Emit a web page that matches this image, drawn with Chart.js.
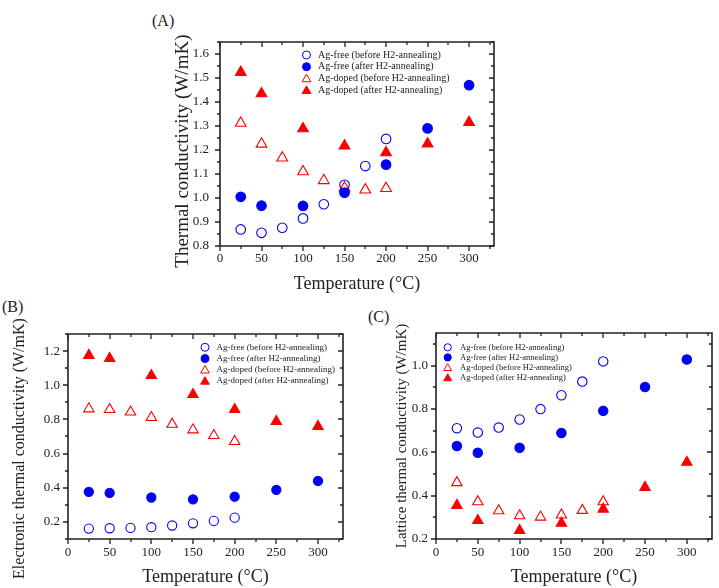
<!DOCTYPE html>
<html><head><meta charset="utf-8">
<script src="https://cdn.jsdelivr.net/npm/chart.js@4/dist/chart.umd.min.js"></script>
<style>
html,body{margin:0;padding:0;background:#fff;}
body{width:719px;height:588px;position:relative;overflow:hidden;font-family:"Liberation Serif",serif;}
.pl{position:absolute;font-size:16px;line-height:16px;color:#222;}
.cv{position:absolute;}
</style></head><body>
<div class="pl" style="left:152px;top:13px">(A)</div>
<div class="pl" style="left:2px;top:299px">(B)</div>
<div class="pl" style="left:368px;top:309px">(C)</div>
<canvas id="cA" class="cv" width="370" height="300" style="left:140px;top:0px"></canvas>
<canvas id="cB" class="cv" width="360" height="288" style="left:0px;top:300px"></canvas>
<canvas id="cC" class="cv" width="359" height="288" style="left:360px;top:300px"></canvas>
<script>
// ---- data ----
const temps8 = [25, 50, 75, 100, 125, 150, 175, 200];
const temps7 = [25, 50, 100, 150, 200, 250, 300];
const seriesNames = ['Ag-free (before H2-annealing)', 'Ag-free (after H2-annealing)',
                     'Ag-doped (before H2-annealing)', 'Ag-doped (after H2-annealing)'];
const xTicks = [0, 50, 100, 150, 200, 250, 300];

// (A) total thermal conductivity
const kFreeBefore  = [0.869, 0.855, 0.876, 0.915, 0.974, 1.055, 1.133, 1.246];
const kFreeAfter   = [1.005, 0.968, 0.967, 1.022, 1.139, 1.290, 1.470];
const kDopedBefore = [1.312, 1.225, 1.167, 1.110, 1.073, 1.042, 1.034, 1.040];
const kDopedAfter  = [1.524, 1.435, 1.289, 1.217, 1.189, 1.226, 1.315];
const yTicksA = [0.8, 0.9, 1.0, 1.1, 1.2, 1.3, 1.4, 1.5, 1.6];

// (B) electronic thermal conductivity
const keFreeBefore  = [0.161, 0.163, 0.165, 0.169, 0.179, 0.192, 0.206, 0.225];
const keFreeAfter   = [0.376, 0.370, 0.343, 0.332, 0.348, 0.388, 0.440];
const keDopedBefore = [0.862, 0.858, 0.843, 0.811, 0.772, 0.739, 0.706, 0.671];
const keDopedAfter  = [1.175, 1.157, 1.057, 0.946, 0.858, 0.788, 0.759];
const yTicksB = [0.2, 0.4, 0.6, 0.8, 1.0, 1.2];

// (C) lattice thermal conductivity
const klFreeBefore  = [0.711, 0.691, 0.714, 0.751, 0.799, 0.863, 0.926, 1.019];
const klFreeAfter   = [0.629, 0.598, 0.621, 0.689, 0.791, 0.901, 1.028];
const klDopedBefore = [0.460, 0.372, 0.330, 0.307, 0.301, 0.311, 0.332, 0.372];
const klDopedAfter  = [0.355, 0.285, 0.239, 0.273, 0.338, 0.438, 0.554];
const yTicksC = [0.2, 0.4, 0.6, 0.8, 1.0];

// ---- styling / helpers ----
const BLUE = 'rgb(0,0,245)';
const RED = 'rgb(250,0,0)';
const INK = '#222222';
Chart.defaults.font.family = '"Liberation Serif", "Times New Roman", serif';
Chart.defaults.color = INK;

function pts(xs, ys) { return xs.map((x, i) => ({x: x, y: ys[i]})); }

function makeDatasets(fb, fa, db, da, rc, rt) {
  const base = (label, data, style, r, fill, col) => ({
    label: label, data: data, pointStyle: style, pointRadius: r, pointHoverRadius: r,
    pointBackgroundColor: fill ? col : 'rgba(0,0,0,0)', pointBorderColor: col,
    pointBorderWidth: 1.1, showLine: false, isFilled: fill
  });
  return [
    base(seriesNames[0], pts(temps8, fb), 'circle', rc, false, BLUE),
    base(seriesNames[1], pts(temps7, fa), 'circle', rc, true, BLUE),
    base(seriesNames[2], pts(temps8, db), 'triangle', rt, false, RED),
    base(seriesNames[3], pts(temps7, da), 'triangle', rt, true, RED)
  ];
}

function drawMarker(ctx, style, x, y, r, fill, col) {
  ctx.beginPath();
  if (style === 'circle') {
    ctx.arc(x, y, r, 0, Math.PI * 2);
  } else {
    for (let k = 0; k < 3; k++) {
      const a = k * 2 * Math.PI / 3;
      const px = x + Math.sin(a) * r, py = y - Math.cos(a) * r;
      if (k === 0) ctx.moveTo(px, py); else ctx.lineTo(px, py);
    }
    ctx.closePath();
  }
  ctx.lineWidth = 1;
  ctx.strokeStyle = col;
  if (fill) { ctx.fillStyle = col; ctx.fill(); }
  ctx.stroke();
}

function drawFrame(chart, o) {
  const ctx = chart.ctx, a = chart.chartArea, xs = chart.scales.x, ys = chart.scales.y;
  const L = Math.round(a.left), R = Math.round(a.right);
  const T = Math.round(a.top), Bt = Math.round(a.bottom);
  ctx.save();
  ctx.globalAlpha = 1;
  ctx.strokeStyle = INK;
  ctx.lineWidth = 1.6;
  ctx.beginPath();
  ctx.moveTo(L, T); ctx.lineTo(R, T); ctx.lineTo(R, Bt); ctx.lineTo(L, Bt); ctx.closePath();
  ctx.stroke();
  ctx.lineWidth = 1.3;
  ctx.beginPath();
  const nx = Math.round((xs.max - xs.min) / o.xMinor);
  for (let i = 0; i <= nx; i++) {
    const v = xs.min + i * o.xMinor;
    const major = Math.abs(v / o.xMajor - Math.round(v / o.xMajor)) < 1e-6;
    const len = major ? 5 : 3;
    const px = Math.round(xs.getPixelForValue(v));
    ctx.moveTo(px, Bt); ctx.lineTo(px, Bt + len);
    ctx.moveTo(px, T); ctx.lineTo(px, T + len);
  }
  const ny = Math.round((ys.max - ys.min) / o.yMinor);
  for (let i = 0; i <= ny; i++) {
    const v = ys.min + i * o.yMinor;
    const major = Math.abs(v / o.yMajor - Math.round(v / o.yMajor)) < 1e-6;
    const len = major ? 5 : 3;
    const py = Math.round(ys.getPixelForValue(v));
    ctx.moveTo(L, py); ctx.lineTo(L - len, py);
    ctx.moveTo(R, py); ctx.lineTo(R - len, py);
  }
  ctx.stroke();
  ctx.restore();
}

function drawLegend(chart, o) {
  const ctx = chart.ctx;
  ctx.save();
  ctx.font = o.size + 'px "Liberation Serif", serif';
  ctx.textBaseline = 'middle';
  ctx.textAlign = 'left';
  chart.data.datasets.forEach((ds, i) => {
    const y = o.y0 + i * o.dy;
    const r = ds.pointStyle === 'circle' ? o.rc : o.rt;
    drawMarker(ctx, ds.pointStyle, o.mx, y + (ds.pointStyle === 'circle' ? 0 : 0.8), r, ds.isFilled, ds.pointBorderColor);
    ctx.fillStyle = INK;
    ctx.fillText(ds.label, o.tx, y);
  });
  ctx.restore();
}

function makeChart(id, cfg) {
  const decor = {
    id: 'decor' + id,
    afterDraw(chart) {
      drawFrame(chart, cfg.frame);
      drawLegend(chart, cfg.legend);
    }
  };
  return new Chart(document.getElementById(id), {
    type: 'scatter',
    data: {datasets: cfg.datasets},
    options: {
      responsive: false, animation: false, devicePixelRatio: 1,
      layout: {padding: {top: cfg.padTop, right: cfg.padRight, left: 0, bottom: 0}},
      plugins: {legend: {display: false}, tooltip: {enabled: false}},
      scales: {
        x: {
          type: 'linear', min: 0, max: 330,
          afterFit: s => { s.height = cfg.xH; },
          afterBuildTicks: s => { s.ticks = xTicks.map(v => ({value: v})); },
          grid: {display: false, drawTicks: false}, border: {display: false},
          ticks: {font: {size: 13}, padding: cfg.xPad, maxRotation: 0, autoSkip: false, color: INK},
          title: {display: true, text: 'Temperature (\u00B0C)', font: {size: 18}, color: INK,
                  padding: {top: 0, bottom: cfg.xTitlePad}}
        },
        y: {
          type: 'linear', min: cfg.yMin, max: cfg.yMax,
          afterFit: s => { s.width = cfg.yW; },
          afterBuildTicks: s => { s.ticks = cfg.yTicks.map(v => ({value: v})); },
          grid: {display: false, drawTicks: false}, border: {display: false},
          ticks: {font: {size: 13}, padding: cfg.yPad, autoSkip: false, color: INK,
                  callback: v => Number(v).toFixed(1)},
          title: {display: true, text: cfg.yTitle, font: {size: cfg.yTitleSize}, color: INK,
                  padding: {top: cfg.yTitlePad, bottom: 0}}
        }
      }
    },
    plugins: [decor]
  });
}

const NB = '\u00A0';

makeChart('cA', {
  datasets: makeDatasets(kFreeBefore, kFreeAfter, kDopedBefore, kDopedAfter, 4.8, 6.2),
  padTop: 42, padRight: 16, xH: 54, yW: 80, yMin: 0.8, yMax: 1.65, yTicks: yTicksA,
  xPad: 5, yPad: 11, xTitlePad: 5,
  yTitle: 'Thermal conductivity (W/mK)' + NB.repeat(3), yTitleSize: 19, yTitlePad: 32,
  frame: {xMinor: 25, xMajor: 50, yMinor: 0.05, yMajor: 0.1},
  legend: {mx: 166.5, tx: 178, y0: 55, dy: 11.7, size: 10, rc: 4, rt: 5}
});

makeChart('cB', {
  datasets: makeDatasets(keFreeBefore, keFreeAfter, keDopedBefore, keDopedAfter, 4.6, 6),
  padTop: 34, padRight: 17, xH: 49, yW: 68, yMin: 0.1, yMax: 1.3, yTicks: yTicksB,
  xPad: 6, yPad: 8, xTitlePad: 0,
  yTitle: 'Electronic thermal conductivity (W/mK)' + NB.repeat(6), yTitleSize: 16, yTitlePad: 10,
  frame: {xMinor: 25, xMajor: 50, yMinor: 0.1, yMajor: 0.2},
  legend: {mx: 205, tx: 216.5, y0: 47.3, dy: 11.2, size: 9, rc: 4, rt: 5}
});

makeChart('cC', {
  datasets: makeDatasets(klFreeBefore, klFreeAfter, klDopedBefore, klDopedAfter, 4.7, 6),
  padTop: 33, padRight: 7, xH: 49, yW: 76, yMin: 0.2, yMax: 1.15, yTicks: yTicksC,
  xPad: 6, yPad: 8, xTitlePad: 0,
  yTitle: 'Lattice thermal conductivity (W/mK)', yTitleSize: 15, yTitlePad: 33,
  frame: {xMinor: 25, xMajor: 50, yMinor: 0.1, yMajor: 0.2},
  legend: {mx: 87.7, tx: 100, y0: 47.3, dy: 10.1, size: 8.5, rc: 3.6, rt: 4.6}
});
</script>
</body></html>
